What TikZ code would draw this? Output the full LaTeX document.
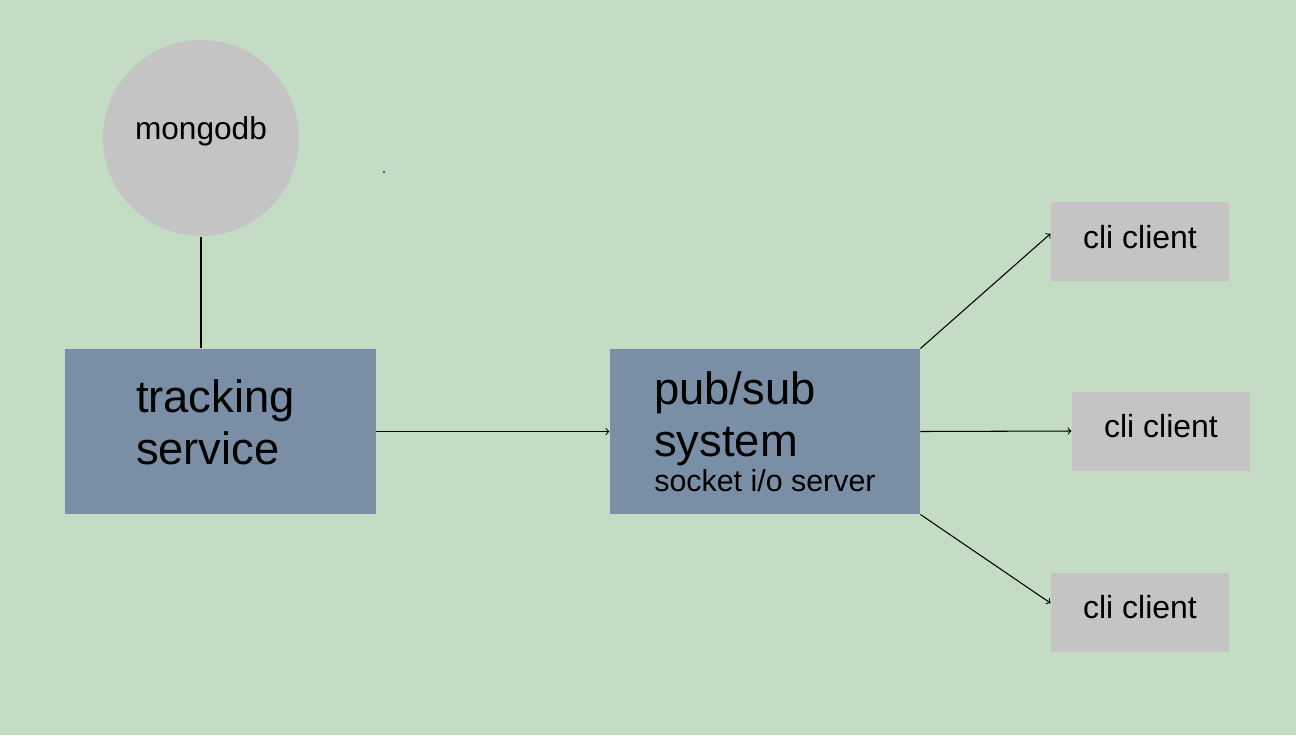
\documentclass[tikz,border=0pt]{standalone}
\usepackage{fontspec}
\setmainfont{Liberation Sans}
\usetikzlibrary{positioning}
\definecolor{bggreen}{RGB}{195,220,195}
\definecolor{boxblue}{RGB}{122,143,165}
\definecolor{cligray}{RGB}{196,196,196}
\tikzset{
  service/.style={rectangle, fill=boxblue, minimum width=6.2cm, minimum height=3.3cm,
    align=left, font=\fontsize{25.8}{29.6}\selectfont},
  client/.style={rectangle, fill=cligray, minimum width=3.56cm, minimum height=1.58cm,
    font=\fontsize{18.2}{21}\selectfont, text height=0.46cm, text depth=0.2cm},
  store/.style={circle, fill=cligray, minimum size=3.92cm,
    font=\fontsize{18}{21}\selectfont, text height=0.46cm, text depth=0.42cm}
}
\begin{document}
\begin{tikzpicture}[->, x=0.02cm, y=-0.02cm, semithick]
      \fill [bggreen] (0,0) rectangle (1296,735);
      \useasboundingbox (0,0) rectangle (1296,735);
      \node [store] (mongo) at (201,138) {mongodb};
      \node [service, text width=3.38cm, inner xsep=1.42cm, text depth=1.4cm] (track) at (220.5,431.5) {tracking\\service};
      \node [service, right=4.66cm of track] (pubsub) {pub/sub\\system\\[-9.7pt]{\fontsize{17.3}{19.9}\selectfont socket i/o server}};
      \node [client] (cli1) at (1140,241.5) {cli client};
      \node [client] (cli2) at (1161,431) {cli client};
      \node [client, below=5.82cm of cli1] (cli3) {cli client};
      \fill [blue] (384,172) circle (1);
      \path
      (mongo.south) edge [-] (mongo.south |- track.north)
      (track.east) edge (pubsub.west)
      (pubsub.north east) edge (cli1.175)
      (pubsub.east) edge (cli2.west)
      (pubsub.south east) edge (cli3.174)
      ;
      \end{tikzpicture}
\end{document}
